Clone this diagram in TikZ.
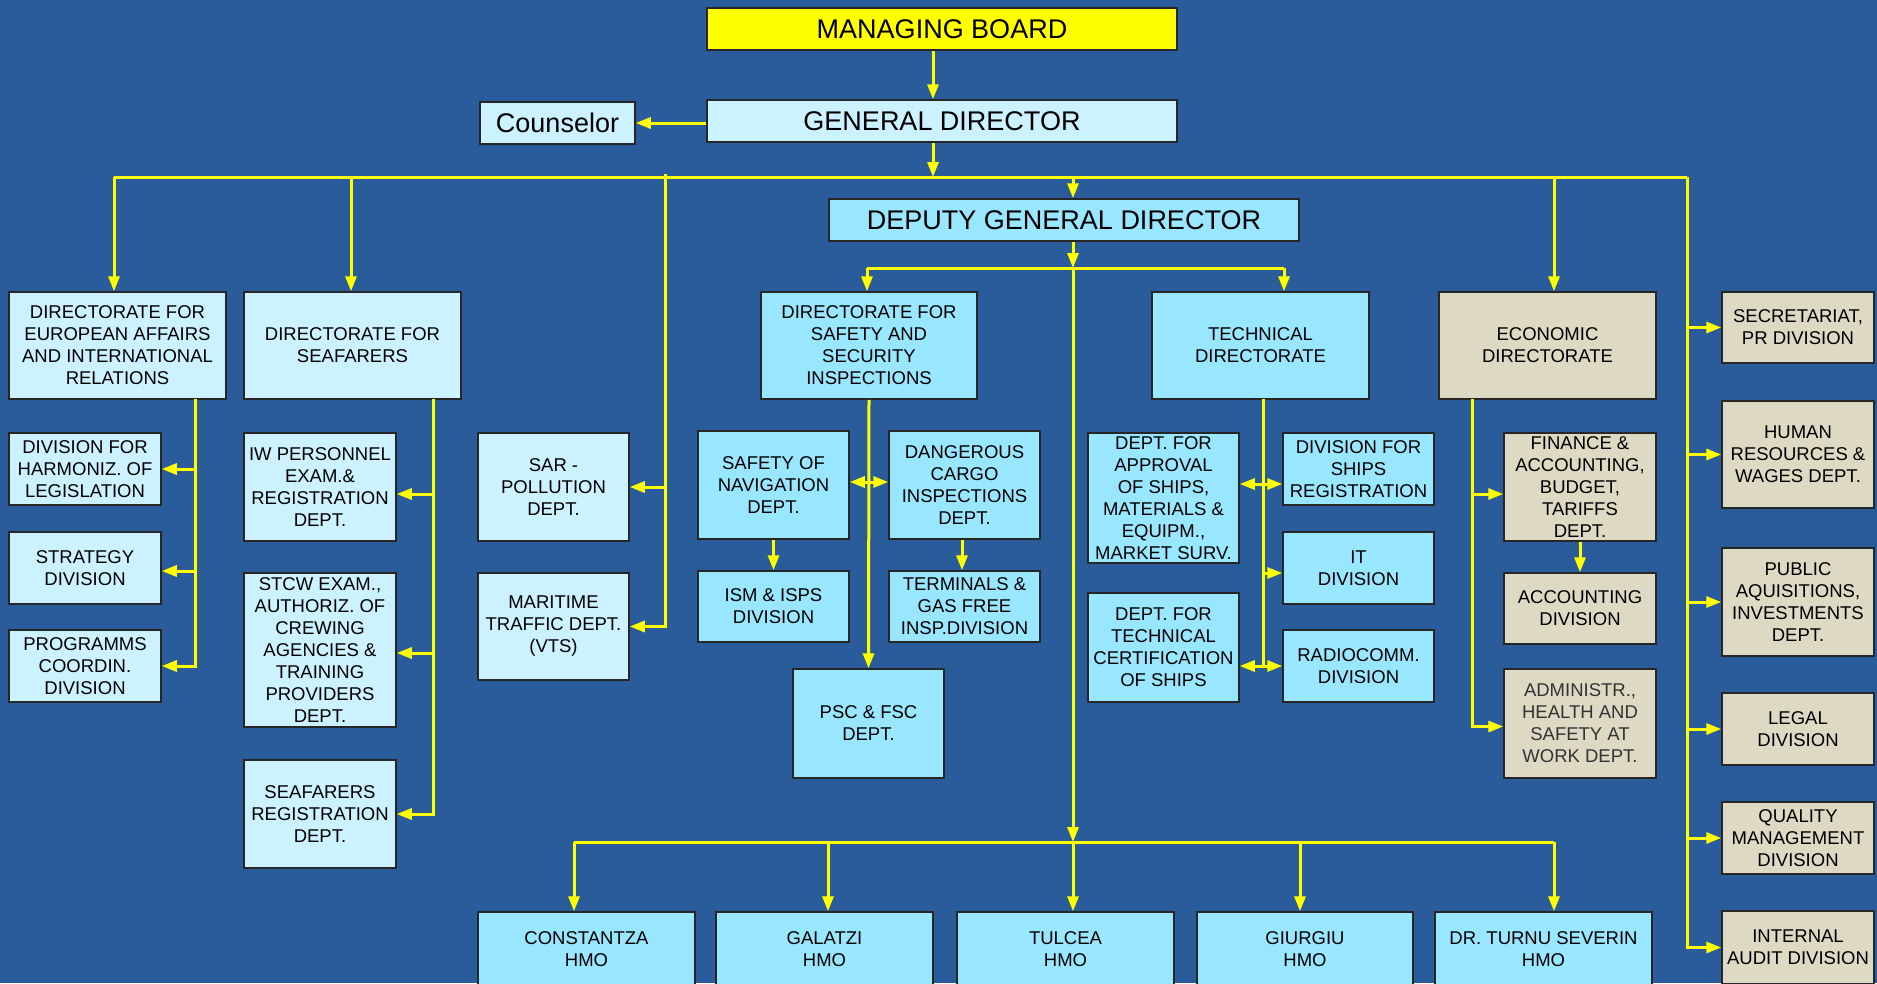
\documentclass[tikz,border=0pt]{standalone}
\usepackage{fontspec}
\setmainfont{Liberation Sans}
\usetikzlibrary{arrows.meta}
\definecolor{bgblue}{RGB}{42,92,155}
\definecolor{lightbox}{RGB}{204,242,255}
\definecolor{cyanbox}{RGB}{153,230,255}
\definecolor{beigebox}{RGB}{221,217,195}
\definecolor{yel}{RGB}{255,255,0}
\definecolor{admtext}{RGB}{51,51,51}
\tikzset{
  box/.style={draw=black!85, line width=1.5pt, inner sep=0pt, align=center,
    font=\fontsize{18.5}{22}\selectfont, anchor=center},
  bigbox/.style={box, font=\fontsize{27}{30}\selectfont},
  sz/.style 2 args={minimum width=#1pt, minimum height=#2pt},
  lb/.style={fill=lightbox},
  cb/.style={fill=cyanbox},
  bb/.style={fill=beigebox},
  ln/.style={draw=yel, line width=3pt},
  arr/.style={ln, -{Triangle[length=15pt,width=11pt]}},
  dbl/.style={ln, {Triangle[length=15pt,width=11pt]}-{Triangle[length=15pt,width=11pt]}}
}
\begin{document}
\begin{tikzpicture}[x=1pt,y=-1pt]
\fill[bgblue] (0,0) rectangle (1877,983);
\useasboundingbox (0,0) rectangle (1877,983);
\clip (0,0) rectangle (1877,983);

% top
\node[bigbox, fill=yel, sz={470}{42}] (mb) at (942,29) {MANAGING BOARD};
\node[bigbox, lb, sz={470}{42}] (gd) at (942,121) {GENERAL DIRECTOR};
\node[bigbox, lb, sz={155}{42}] (cou) at (557.5,123) {Counselor};
\node[bigbox, cb, sz={470}{42}] (dgd) at (1064,220) {DEPUTY GENERAL DIRECTOR};

% directorates
\node[box, lb, sz={217}{107}] (eu) at (117.5,345.5) {DIRECTORATE FOR\\EUROPEAN AFFAIRS\\AND INTERNATIONAL\\RELATIONS};
\node[box, lb, sz={217}{107}] (sea) at (352.5,345.5) {DIRECTORATE FOR\\SEAFARERS};
\node[box, cb, sz={216}{107}] (saf) at (869,345.5) {DIRECTORATE FOR\\SAFETY AND\\SECURITY\\INSPECTIONS};
\node[box, cb, sz={217}{107}] (tech) at (1260.5,345.5) {TECHNICAL\\DIRECTORATE};
\node[box, bb, sz={217}{107}] (eco) at (1547.5,345.5) {ECONOMIC\\DIRECTORATE};

% european subs
\node[box, lb, sz={152}{72}] (harm) at (85,469) {DIVISION FOR\\HARMONIZ. OF\\LEGISLATION};
\node[box, lb, sz={152}{72}] (strat) at (85,568) {STRATEGY\\DIVISION};
\node[box, lb, sz={152}{72}] (prog) at (85,666) {PROGRAMMS\\COORDIN.\\DIVISION};

% seafarers subs
\node[box, lb, sz={152}{108}] (iw) at (320,487) {IW PERSONNEL\\EXAM.\&\\REGISTRATION\\DEPT.};
\node[box, lb, sz={152}{154}] (stcw) at (320,650) {STCW EXAM.,\\AUTHORIZ. OF\\CREWING\\AGENCIES \&\\TRAINING\\PROVIDERS\\DEPT.};
\node[box, lb, sz={152}{108}] (sreg) at (320,814) {SEAFARERS\\REGISTRATION\\DEPT.};

% sar column
\node[box, lb, sz={151}{108}] (sar) at (553.5,487) {SAR -\\POLLUTION\\DEPT.};
\node[box, lb, sz={151}{107}] (mtd) at (553.5,626.5) {MARITIME\\TRAFFIC DEPT.\\(VTS)};

% safety subs
\node[box, cb, sz={151}{108}] (son) at (773.5,485) {SAFETY OF\\NAVIGATION\\DEPT.};
\node[box, cb, sz={151}{108}] (dc) at (964.5,485) {DANGEROUS\\CARGO\\INSPECTIONS\\DEPT.};
\node[box, cb, sz={151}{71}] (ism) at (773.5,606.5) {ISM \& ISPS\\DIVISION};
\node[box, cb, sz={151}{71}] (term) at (964.5,606.5) {TERMINALS \&\\GAS FREE\\INSP.DIVISION};
\node[box, cb, sz={151}{109}] (psc) at (868.5,723.5) {PSC \& FSC\\DEPT.};

% technical subs
\node[box, cb, sz={151}{130}] (appr) at (1163.5,498) {DEPT. FOR\\APPROVAL\\OF SHIPS,\\MATERIALS \&\\EQUIPM.,\\MARKET SURV.};
\node[box, cb, sz={151}{72}] (shreg) at (1358.5,469) {DIVISION FOR\\SHIPS\\REGISTRATION};
\node[box, cb, sz={151}{72}] (it) at (1358.5,568) {IT\\DIVISION};
\node[box, cb, sz={151}{109}] (cert) at (1163.5,647.5) {DEPT. FOR\\TECHNICAL\\CERTIFICATION\\OF SHIPS};
\node[box, cb, sz={151}{72}] (radio) at (1358.5,666) {RADIOCOMM.\\DIVISION};

% economic subs
\node[box, bb, sz={152}{108}] (fin) at (1580,487) {FINANCE \&\\ACCOUNTING,\\BUDGET,\\TARIFFS\\DEPT.};
\node[box, bb, sz={152}{71}] (acc) at (1580,608.5) {ACCOUNTING\\DIVISION};
\node[box, bb, sz={152}{109}, text=admtext] (adm) at (1580,723.5) {ADMINISTR.,\\HEALTH AND\\SAFETY AT\\WORK DEPT.};

% right column
\node[box, bb, sz={152}{71}] (sec) at (1798,327.5) {SECRETARIAT,\\PR DIVISION};
\node[box, bb, sz={152}{107}] (hr) at (1798,454.5) {HUMAN\\RESOURCES \&\\WAGES DEPT.};
\node[box, bb, sz={152}{108}] (pub) at (1798,602) {PUBLIC\\AQUISITIONS,\\INVESTMENTS\\DEPT.};
\node[box, bb, sz={152}{72}] (legal) at (1798,729) {LEGAL\\DIVISION};
\node[box, bb, sz={152}{72}] (qual) at (1798,838) {QUALITY\\MANAGEMENT\\DIVISION};
\node[box, bb, sz={152}{73}] (audit) at (1798,947.5) {INTERNAL\\AUDIT DIVISION};

% HMOs
\node[box, cb, sz={217}{74}] (con) at (586.5,949) {CONSTANTZA\\HMO};
\node[box, cb, sz={217}{74}] (gal) at (824.5,949) {GALATZI\\HMO};
\node[box, cb, sz={217}{74}] (tul) at (1065.5,949) {TULCEA\\HMO};
\node[box, cb, sz={216}{74}] (giu) at (1305,949) {GIURGIU\\HMO};
\node[box, cb, sz={217}{74}] (dr) at (1543.5,949) {DR. TURNU SEVERIN\\HMO};

% connectors: top
\coordinate (gx) at (933,0);
\draw[arr] (gx |- mb.south) -- (gx |- gd.north);
\draw[arr] (gd.west |- cou.east) -- (cou.east);
\coordinate (bus) at (933,177);
\draw[arr] (gx |- gd.south) -- (bus);
\coordinate (bL) at (114,177);
\coordinate (bR) at (1687,177);
\draw[ln] (bL) -- (bR);
\draw[arr] (bL) -- (bL |- eu.north);
\coordinate (bS) at (351,177);
\draw[arr] (bS) -- (bS |- sea.north);
\coordinate (bD) at (1073,177);
\draw[arr] (bD) -- (bD |- dgd.north);
\coordinate (bE) at (1554,177);
\draw[arr] (bE) -- (bE |- eco.north);

% SAR branch
\coordinate (bSar) at (665,174);
\draw[arr] (bSar) |- (mtd.east);
\draw[arr] (bSar |- sar.east) -- (sar.east);

% right column
\draw[arr] (bR) |- (audit.west);
\draw[arr] (bR |- sec.west) -- (sec.west);
\draw[arr] (bR |- hr.west) -- (hr.west);
\draw[arr] (bR |- pub.west) -- (pub.west);
\draw[arr] (bR |- legal.west) -- (legal.west);
\draw[arr] (bR |- qual.west) -- (qual.west);

% deputy
\coordinate (d2) at (1073,268);
\draw[arr] (d2 |- dgd.south) -- (d2);
\coordinate (d2L) at (867,268);
\coordinate (d2R) at (1284,268);
\draw[ln] (d2L) -- (d2R);
\draw[arr] (d2L) -- (d2L |- saf.north);
\draw[arr] (d2R) -- (d2R |- tech.north);
\coordinate (d3) at (1073,842);
\draw[arr] (d2) -- (d3);
\coordinate (hL) at (574,842);
\coordinate (hG) at (828,842);
\coordinate (hGi) at (1300,842);
\coordinate (hR) at (1554,842);
\draw[ln] (hL) -- (hR);
\draw[arr] (hL) -- (hL |- con.north);
\draw[arr] (hG) -- (hG |- gal.north);
\draw[arr] (d3) -- (d3 |- tul.north);
\draw[arr] (hGi) -- (hGi |- giu.north);
\draw[arr] (hR) -- (hR |- dr.north);

% european
\coordinate (ev) at (195,399);
\draw[arr] (ev) |- (prog.east);
\draw[arr] (ev |- harm.east) -- (harm.east);
\draw[arr] ([yshift=-3pt]ev |- strat.east) -- ([yshift=-3pt]strat.east);

% seafarers
\coordinate (sv) at (433,399);
\draw[arr] (sv) |- (sreg.east);
\draw[arr] ([yshift=-7pt]sv |- iw.east) -- ([yshift=-7pt]iw.east);
\draw[arr] ([yshift=-3pt]sv |- stcw.east) -- ([yshift=-3pt]stcw.east);

% safety
\draw[arr] (saf.south) -- (psc.north);
\coordinate (sd) at (868,482);
\draw[dbl] (sd -| son.east) -- (sd -| dc.west);
\draw[arr] (son.south) -- (ism.north);
\coordinate (dcx) at (962,0);
\draw[arr] (dcx |- dc.south) -- (dcx |- term.north);

% technical
\coordinate (tv) at (1263,399);
\coordinate (r1) at (1263,484);
\coordinate (r2) at (1263,666);
\draw[ln] (tv) -- (r2);
\draw[dbl] (r1 -| appr.east) -- (r1 -| shreg.west);
\draw[dbl] (r2 -| cert.east) -- (r2 -| radio.west);
\draw[arr] ([yshift=-5pt]tv |- it.west) -- ([yshift=-5pt]it.west);

% economic
\coordinate (ecv) at (1472,399);
\draw[arr] (ecv) |- ([yshift=-3pt]adm.west);
\draw[arr] ([yshift=-7pt]ecv |- fin.west) -- ([yshift=-7pt]fin.west);
\draw[arr] (fin.south) -- (acc.north);
\end{tikzpicture}
\end{document}
